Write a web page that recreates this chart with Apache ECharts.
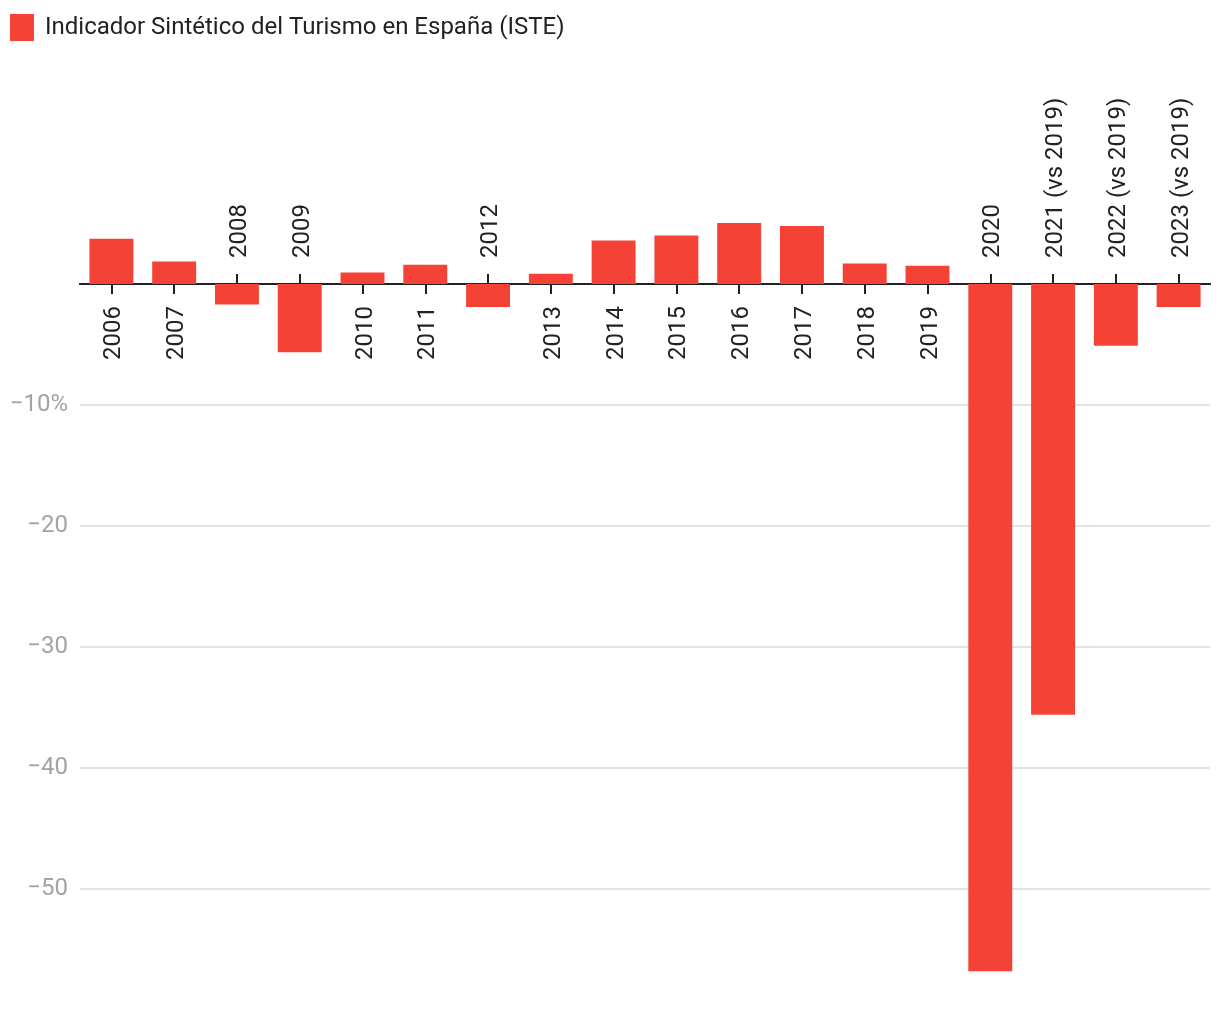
<!DOCTYPE html>
<html>
<head>
<meta charset="utf-8">
<script src="https://cdn.jsdelivr.net/npm/echarts@6/dist/echarts.min.js"></script>
<style>
  html, body { margin: 0; padding: 0; background: #fff; }
  #chart { width: 1220px; height: 1020px; }
</style>
</head>
<body>
<div id="chart"></div>
<script>
const seriesName = 'Indicador Sintético del Turismo en España (ISTE)';
const categories = ['2006', '2007', '2008', '2009', '2010', '2011', '2012', '2013', '2014', '2015', '2016', '2017', '2018', '2019', '2020', '2021 (vs 2019)', '2022 (vs 2019)', '2023 (vs 2019)'];
const values = [3.75, 1.85, -1.7, -5.65, 0.95, 1.6, -1.9, 0.85, 3.6, 4.0, 5.05, 4.8, 1.7, 1.5, -56.8, -35.6, -5.1, -1.9];
const yTicks = [-60, -50, -40, -30, -20, -10, 0, 10];

const FONT = 'Roboto';
const isPos = (i) => values[i] >= 0;

// Category labels are drawn at the zero line: below it for positive bars, above it for negative bars.
const barData = values.map((v, i) => ({
  value: v,
  label: v >= 0
    ? { position: 'bottom', align: 'right', verticalAlign: 'middle', distance: 22 }
    : { position: 'top', align: 'left', verticalAlign: 'middle', distance: 26 }
}));

const chart = echarts.init(document.getElementById('chart'), null, { renderer: 'canvas' });
chart.setOption({
  animation: false,
  backgroundColor: '#ffffff',
  textStyle: { fontFamily: FONT },
  legend: {
    left: 10, top: 14, padding: 0,
    icon: 'rect',
    itemWidth: 24, itemHeight: 27,
    textStyle: { fontSize: 24, color: '#222', fontFamily: FONT, padding: [0, 0, 0, 6] },
    data: [seriesName]
  },
  grid: {
    left: 80, right: 10, top: 163, bottom: 10,
    containLabel: false,
    outerBoundsMode: 'none'
  },
  xAxis: [
    {
      type: 'category',
      data: categories,
      position: 'bottom',
      axisLine: { onZero: true, onZeroAxisIndex: 0, lineStyle: { color: '#222', width: 2 } },
      axisTick: { show: true, alignWithLabel: true, length: 10, lineStyle: { color: '#222', width: 2 },
        interval: (i) => isPos(i) },
      axisLabel: { show: false },
      splitLine: { show: false }
    },
    {
      type: 'category',
      data: categories,
      position: 'top',
      axisLine: { show: true, onZero: true, onZeroAxisIndex: 0, lineStyle: { color: '#222', width: 2 } },
      axisTick: { show: true, alignWithLabel: true, length: 10, lineStyle: { color: '#222', width: 2 },
        interval: (i) => !isPos(i) },
      axisLabel: { show: false },
      splitLine: { show: false }
    }
  ],
  yAxis: {
    type: 'value',
    min: yTicks[0], max: yTicks[yTicks.length - 1], interval: 10,
    axisLine: { show: false },
    axisTick: { show: false },
    axisLabel: {
      fontSize: 24, color: '#a3a3a3', margin: 12, fontFamily: FONT,
      formatter: (v) => {
        if (v >= 0 || v === yTicks[0]) return '';
        return v === -10 ? '−10%' : '−' + Math.abs(v);
      }
    },
    splitLine: { show: true, showMinLine: false, showMaxLine: false, lineStyle: { color: '#e3e3e3', width: 2 } }
  },
  series: [{
    name: seriesName,
    type: 'bar',
    xAxisIndex: 0,
    yAxisIndex: 0,
    data: barData,
    barCategoryGap: '30%',
    itemStyle: { color: '#f44336' },
    label: {
      show: true,
      rotate: 90,
      fontSize: 24,
      color: '#222',
      fontFamily: FONT,
      offset: [0, 3],
      formatter: (p) => categories[p.dataIndex]
    }
  }]
});
</script>
</body>
</html>
